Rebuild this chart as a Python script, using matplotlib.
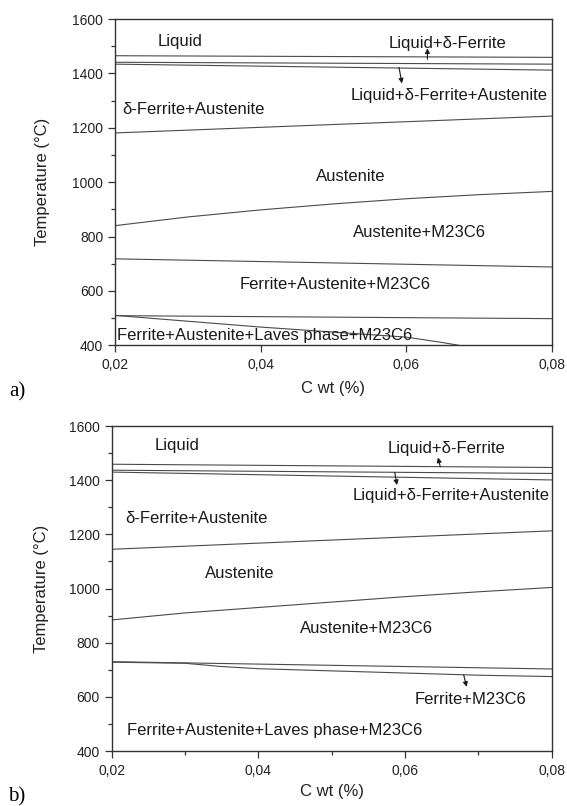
import matplotlib.pyplot as plt
from matplotlib.ticker import MultipleLocator, FuncFormatter

plt.rcParams['font.family'] = ['Liberation Sans', 'DejaVu Sans']

# x grid used for curved boundaries
c_wt = [0.02, 0.03, 0.04, 0.05, 0.06, 0.07, 0.08]
c_ends = [0.02, 0.08]

# ---- panel a) phase boundaries (deg C) ----
a_liquidus = [1465, 1459]
a_line2 = [1441, 1434]
a_line3 = [1434, 1412]
a_ferr_aust = [1181, 1243]
a_austenite = [840, 872, 898, 920, 939, 954, 966]
a_m23 = [718, 688]
a_laves_top = [509, 498]
a_laves_x = [0.02, 0.04, 0.06, 0.065, 0.0672]
a_laves_t = [510, 467, 430, 410, 400]

# ---- panel b) phase boundaries (deg C) ----
b_liquidus = [1459, 1447]
b_line2 = [1437, 1425]
b_line3 = [1430, 1401]
b_ferr_aust = [1145, 1213]
b_austenite = [884, 910, 930, 950, 970, 988, 1004]
b_m23_upper = [730, 703]
b_m23_lower_x = [0.02, 0.03, 0.035, 0.04, 0.05, 0.06, 0.07, 0.08]
b_m23_lower_t = [728, 724, 712, 704, 696, 688, 680, 675]

# phase labels: (text, x, T, ha)
a_labels = [
    ('Liquid', 0.0290, 1516, 'center'),
    ('Liquid+δ-Ferrite', 0.0656, 1510, 'center'),
    ('Liquid+δ-Ferrite+Austenite', 0.0659, 1318, 'center'),
    ('δ-Ferrite+Austenite', 0.0210, 1267, 'left'),
    ('Austenite', 0.0523, 1019, 'center'),
    ('Austenite+M23C6', 0.0618, 814, 'center'),
    ('Ferrite+Austenite+M23C6', 0.0502, 623, 'center'),
    ('Ferrite+Austenite+Laves phase+M23C6', 0.0406, 436, 'center'),
]
b_labels = [
    ('Liquid', 0.0289, 1530, 'center'),
    ('Liquid+δ-Ferrite', 0.0657, 1518, 'center'),
    ('Liquid+δ-Ferrite+Austenite', 0.0663, 1343, 'center'),
    ('δ-Ferrite+Austenite', 0.0218, 1257, 'left'),
    ('Austenite', 0.0374, 1056, 'center'),
    ('Austenite+M23C6', 0.0548, 853, 'center'),
    ('Ferrite+M23C6', 0.0689, 592, 'center'),
    ('Ferrite+Austenite+Laves phase+M23C6', 0.0422, 474, 'center'),
]

# arrows: (tail x, tail T, head x, head T)
a_arrows = [(0.0629, 1452, 0.0629, 1492), (0.0590, 1422, 0.0594, 1363)]
b_arrows = [(0.0648, 1450, 0.0645, 1484), (0.0586, 1429, 0.0589, 1382),
            (0.0680, 681, 0.0684, 637)]

line_col = '#4a4a4a'
frame_col = '#333333'

fig = plt.figure(figsize=(5.67, 8.06), dpi=100)
ax_a = fig.add_axes([0.2028, 0.5716, 0.7707, 0.4048])
ax_b = fig.add_axes([0.1970, 0.0682, 0.7760, 0.4032])


def comma(v, pos):
    return f'{v:.2f}'.replace('.', ',')


def style(ax, x_minor, xlab_y, ylab_x):
    ax.set_xlim(0.02, 0.08)
    ax.set_ylim(400, 1600)
    ax.xaxis.set_major_locator(MultipleLocator(0.02))
    ax.xaxis.set_major_formatter(FuncFormatter(comma))
    if x_minor:
        ax.xaxis.set_minor_locator(MultipleLocator(0.01))
    ax.yaxis.set_major_locator(MultipleLocator(200))
    ax.yaxis.set_minor_locator(MultipleLocator(100))
    ax.tick_params(which='major', direction='out', length=5, width=0.9,
                   colors=frame_col, labelsize=10, labelcolor='#222222')
    ax.tick_params(which='minor', direction='out', length=3, width=0.9,
                   colors=frame_col)
    ax.tick_params(axis='x', pad=4)
    for s in ax.spines.values():
        s.set_color(frame_col)
        s.set_linewidth(1.0)
    ax.set_xlabel('C wt (%)', fontsize=12, color='#222222', va='center')
    ax.set_ylabel('Temperature (°C)', fontsize=12, color='#222222', va='center')
    ax.xaxis.set_label_coords(0.5, xlab_y)
    ax.yaxis.set_label_coords(ylab_x, 0.5)


def draw(ax, curves, labels, arrows):
    for xs, ts in curves:
        ax.plot(xs, ts, color=line_col, lw=0.8)
    for txt, x, t, ha in labels:
        ax.text(x, t, txt, ha=ha, va='center', fontsize=12, color='#1a1a1a')
    for x0, t0, x1, t1 in arrows:
        ax.annotate('', xy=(x1, t1), xytext=(x0, t0),
                    arrowprops=dict(arrowstyle='-|>', color='#1a1a1a', lw=0.8,
                                    mutation_scale=7, shrinkA=0, shrinkB=0))


draw(ax_a, [(c_ends, a_liquidus), (c_ends, a_line2), (c_ends, a_line3),
            (c_ends, a_ferr_aust), (c_wt, a_austenite), (c_ends, a_m23),
            (c_ends, a_laves_top), (a_laves_x, a_laves_t)],
     a_labels, a_arrows)
draw(ax_b, [(c_ends, b_liquidus), (c_ends, b_line2), (c_ends, b_line3),
            (c_ends, b_ferr_aust), (c_wt, b_austenite), (c_ends, b_m23_upper),
            (b_m23_lower_x, b_m23_lower_t)],
     b_labels, b_arrows)

style(ax_a, False, -0.131, -0.167)
style(ax_b, True, -0.125, -0.159)

fig.text(9 / 567, 1 - 392 / 806, 'a)', family=['Liberation Serif', 'DejaVu Serif'],
         fontsize=15, ha='left', va='center')
fig.text(8 / 567, 1 - 797 / 806, 'b)', family=['Liberation Serif', 'DejaVu Serif'],
         fontsize=15, ha='left', va='center')

fig.savefig('out.png', dpi=100, facecolor='white')
